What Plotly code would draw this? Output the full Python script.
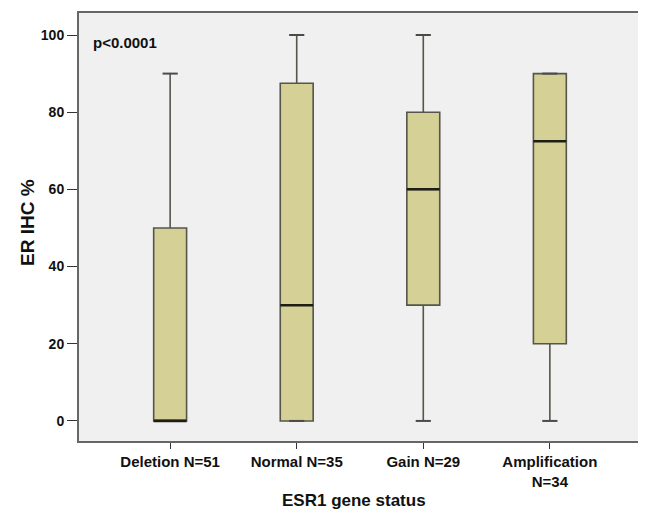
import plotly.graph_objects as go

categories = ["Deletion N=51", "Normal N=35", "Gain N=29", "Amplification<br>N=34"]
lower_whisker = [0, 0, 0, 0]
q1_vals = [0, 0, 30, 20]
median_vals = [0, 30, 60, 72.5]
q3_vals = [50, 87.5, 80, 90]
upper_whisker = [90, 100, 100, 90]
y_ticks = [0, 20, 40, 60, 80, 100]

positions = list(range(len(categories)))
box_w = 0.26
cap_w = 0.12

fig = go.Figure()
for i, pos in enumerate(positions):
    fig.add_trace(go.Box(
        x=[pos], q1=[q1_vals[i]], median=[median_vals[i]], q3=[q3_vals[i]],
        lowerfence=[lower_whisker[i]], upperfence=[upper_whisker[i]],
        width=box_w, fillcolor="#d4d096", line=dict(color="#55554a", width=1.6),
        whiskerwidth=0, showlegend=False, hoverinfo="skip"))
    for v in (lower_whisker[i], upper_whisker[i]):
        fig.add_trace(go.Scatter(x=[pos - cap_w / 2, pos + cap_w / 2], y=[v, v], mode="lines",
                                 line=dict(color="#4a4a4a", width=2), showlegend=False, hoverinfo="skip"))
    fig.add_trace(go.Scatter(x=[pos - box_w / 2, pos + box_w / 2], y=[median_vals[i]] * 2, mode="lines",
                             line=dict(color="#1e1e14", width=2.5), showlegend=False, hoverinfo="skip"))

bold = dict(family="Liberation Sans, Arial", color="#111", weight="bold")
fig.add_annotation(text="p<0.0001", xref="paper", yref="paper", x=0.021, y=0.93,
                   xanchor="left", yanchor="middle", showarrow=False, font=dict(bold, size=15))
fig.add_annotation(text="ESR1 gene status", xref="paper", yref="paper", x=0.49, y=-0.14,
                   xanchor="center", yanchor="middle", showarrow=False, font=dict(bold, size=17))
fig.add_annotation(text="ER IHC %", xref="paper", yref="paper", x=-0.092, y=0.51, textangle=-90,
                   xanchor="center", yanchor="middle", showarrow=False, font=dict(bold, size=19))

fig.update_layout(
    width=638, height=505,
    margin=dict(l=71, r=3, t=4, b=72),
    paper_bgcolor="white", plot_bgcolor="#f0f0f0",
    font=dict(family="Liberation Sans, Arial", color="#111"),
    xaxis=dict(range=[-0.72, 3.72], tickvals=positions, ticktext=categories,
               showgrid=False, zeroline=False, showline=True, mirror=True,
               linecolor="#666", linewidth=2, ticks="outside", ticklen=6, tickcolor="#333",
               tickfont=dict(size=15, weight="bold")),
    yaxis=dict(range=[-5.2, 105.7], tickvals=y_ticks, showgrid=False, zeroline=False,
               showline=True, mirror=True, linecolor="#666", linewidth=2,
               ticks="outside", ticklen=10, tickcolor="#333",
               tickfont=dict(size=14, weight="bold")),
)

fig.write_html("out.html")
